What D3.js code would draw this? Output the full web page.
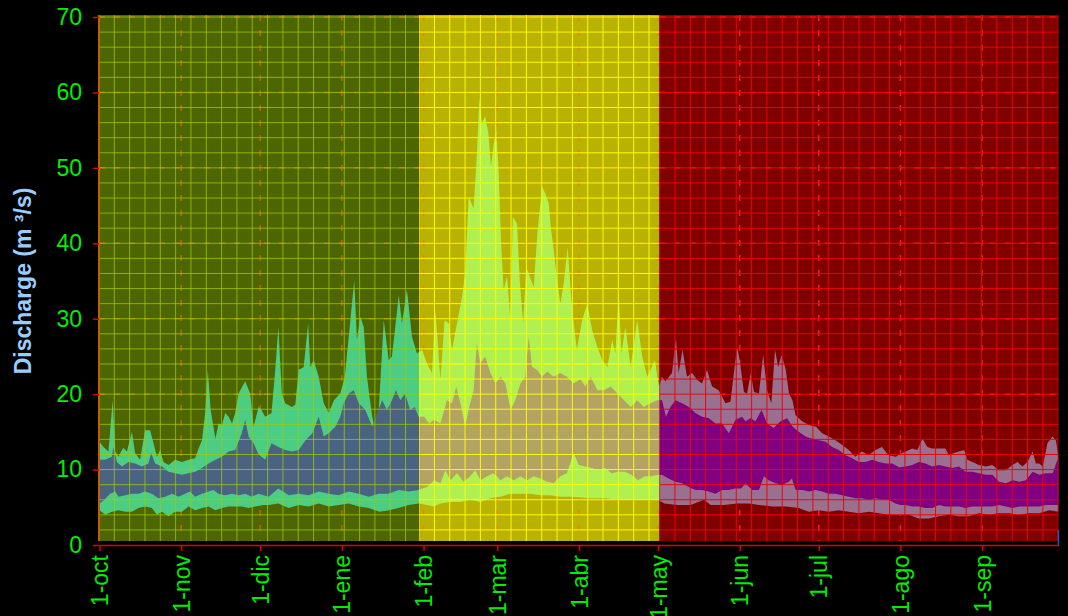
<!DOCTYPE html>
<html>
<head>
<meta charset="utf-8">
<script src="https://cdn.jsdelivr.net/npm/d3@7/dist/d3.min.js"></script>
<style>
  body { margin: 0; background: #000; }
  text { font-family: "Liberation Sans", Arial, sans-serif; }
</style>
</head>
<body>
<div id="main"></div>
<script>
// hydrological year, day 0 = 1 October
const monthDays = [0, 31, 61, 92, 123, 151, 182, 212, 243, 273, 304, 335];
const monthLabels = ["1-oct", "1-nov", "1-dic", "1-ene", "1-feb", "1-mar",
                     "1-abr", "1-may", "1-jun", "1-jul", "1-ago", "1-sep"];
const yTicks = [0, 10, 20, 30, 40, 50, 60, 70];
// season limits (days): wet-autumn, high flow, dry
const seasonBreaks = [-0.2, 121.3, 212.6, 364];

// [day, discharge m3/s]
const seriesMax = [[0,13.7],[1.5,13.0],[3.4,12.4],[5,19.2],[6,12.4],[7.2,11.7],[9,12.9],[10.4,12.4],[12.3,15.0],[13.5,12.2],[15.4,11.3],[17.3,15.2],[19.2,15.2],[20.5,13.5],[21.8,11.7],[23,12.6],[24.3,11.0],[26.2,10.6],[28.7,11.3],[31.3,11.0],[33.8,11.3],[36.3,11.5],[37.6,12.8],[38.9,13.9],[40.1,17.5],[41.1,23.2],[42.2,17.9],[44,14.1],[45.2,16.1],[46.5,15.9],[47.7,17.5],[49,17.0],[50.3,16.1],[51.5,17.5],[52.8,20.1],[55.3,21.7],[57.2,20.1],[58.5,15.7],[60.4,18.3],[61.5,17.9],[62.9,17.0],[65.3,17.5],[66.7,23.2],[67.9,28.9],[69.2,20.1],[70.5,18.8],[73,18.3],[74.3,18.6],[75.6,23.2],[77.5,23.6],[79.2,29.4],[80,23.6],[81.3,24.5],[83.2,22.3],[85.1,18.8],[87,17.5],[89,19.2],[91.4,20.1],[93.1,22.3],[94.6,27.6],[96.7,35.1],[97.7,27.2],[99,30.3],[100.3,28.9],[101.5,22.3],[103.5,17.0],[104.7,15.2],[106,17.9],[107.9,29.8],[109.8,24.5],[111,25.0],[113.6,33.1],[114.8,29.4],[116.7,33.8],[118.6,27.6],[120.5,25.4],[122.4,25.9],[124.3,24.1],[126.2,22.8],[127.5,31.2],[129.4,21.9],[131,29.8],[132.6,29.4],[133.8,25.9],[135.7,29.4],[137.6,32.9],[138.8,36.0],[140.1,46.2],[142,44.6],[143.2,51.5],[144.2,59.4],[145.1,55.9],[146.4,56.8],[147.6,54.6],[148.6,50.1],[149.6,53.2],[150.6,55.0],[151.5,49.7],[152.4,40.4],[153.4,33.8],[154.7,35.6],[155.9,30.3],[156.9,43.5],[158.5,42.6],[159.5,35.1],[160.8,29.4],[162,36.9],[163.3,35.6],[164.8,34.2],[166.3,41.8],[168,47.5],[169.2,46.6],[170.5,45.3],[171.4,41.8],[172.4,39.1],[173.7,35.1],[174.9,32.0],[176.2,34.7],[177.7,39.5],[179,32.9],[180,29.4],[181.2,25.9],[182.5,28.5],[183.2,29.8],[185.1,32.0],[187,28.5],[188.9,26.3],[190.8,24.5],[192.8,23.6],[194.6,27.2],[195.8,25.4],[197.1,33.4],[198.1,25.4],[199.6,28.9],[201.6,23.6],[204.1,29.8],[206,25.0],[207.9,22.3],[209.1,23.2],[210.8,24.5],[212.3,21.0],[213.5,22.3],[214.8,21.7],[217.3,22.8],[218.8,27.4],[219.8,22.8],[221.3,25.9],[223,22.3],[224.9,22.8],[226.8,21.9],[228.7,21.4],[230.6,23.2],[232.5,21.0],[235,20.5],[237.6,18.8],[239.5,19.0],[240.8,22.8],[242,26.3],[243,24.5],[244.6,20.3],[245.8,20.1],[247.2,22.8],[248.4,20.3],[250.3,20.1],[251.9,25.2],[253.4,20.5],[255,18.8],[256.4,25.9],[257.6,23.6],[258.9,25.2],[260.4,23.4],[261.7,20.1],[263,19.2],[264.2,17.2],[266.7,16.4],[269.2,15.9],[271.8,15.7],[274.3,14.8],[276.8,14.4],[279.3,13.9],[281.8,13.3],[284.4,12.6],[286.9,11.7],[289.4,12.4],[291.9,11.9],[294.5,12.6],[297,13.0],[299.5,11.9],[302.2,11.7],[304.7,12.2],[306,12.4],[308.5,12.8],[310.4,12.6],[312.4,14.1],[314.2,13.0],[316.1,12.8],[318.6,12.8],[321.1,12.8],[322.4,11.9],[324.3,12.2],[326.2,12.4],[328.2,12.6],[329.4,11.3],[331.3,11.0],[333.8,10.6],[336.4,10.4],[338.9,10.6],[341.4,9.9],[344,9.9],[346.5,10.6],[348.4,11.0],[350.3,10.4],[352.2,11.0],[354.2,12.4],[355.4,10.8],[356.7,10.8],[358,10.4],[359.8,13.5],[361.7,14.4],[363,13.9],[364,11.7]];

const seriesQ3 = [[0,11.3],[2.2,11.3],[4.7,11.7],[5.3,13.0],[6.6,11.0],[8.5,10.4],[11,11.0],[13.5,10.8],[16.1,10.4],[18.6,10.8],[19.6,12.2],[21.1,10.8],[23.7,10.4],[26.2,9.7],[28.7,9.5],[31.3,9.3],[33.8,9.5],[36.3,9.7],[38.9,10.2],[41.4,10.8],[44,11.3],[46.5,11.7],[49,12.4],[51.5,12.6],[54,14.8],[55.3,16.6],[56.6,14.4],[58.5,13.5],[60.4,12.0],[62.9,11.3],[65.3,13.5],[67.9,13.0],[70.5,12.6],[73,12.4],[75.6,12.6],[78.2,13.9],[80.8,14.8],[83.2,17.0],[85.1,14.4],[87,14.8],[89.6,15.7],[91.4,17.0],[92.7,18.8],[94.6,20.1],[96.5,20.5],[98.4,18.8],[100.9,17.9],[103.5,15.7],[105.4,17.5],[107.3,19.2],[109.1,17.9],[111,19.2],[112.5,20.5],[114.2,19.2],[116,20.1],[117.9,17.9],[119.7,18.3],[121.1,17.0],[123.2,17.0],[125.1,16.1],[127,16.6],[129.4,16.1],[131.9,19.2],[133.8,18.8],[135.4,21.0],[137,18.8],[138.8,15.7],[140.1,17.9],[142,20.5],[143.2,26.7],[144.6,24.1],[146.4,25.0],[148.4,22.8],[150.3,21.4],[152.2,22.3],[154.1,21.4],[156,17.9],[157.8,19.2],[159.8,21.4],[161.6,22.3],[162.9,27.6],[164.2,23.6],[166.1,23.2],[168,22.3],[169.9,23.0],[172.4,22.3],[174.9,22.8],[177.4,22.3],[180,21.4],[182.5,22.0],[184.4,21.0],[186.4,22.3],[189,20.5],[191.5,20.5],[194,21.0],[196.6,20.1],[199.1,19.2],[201.6,18.3],[204.1,19.2],[206.6,18.3],[209.1,18.8],[211.7,19.2],[213.5,19.2],[215,17.0],[216.7,18.3],[218.6,19.2],[221.1,18.8],[223.7,18.3],[226.2,17.5],[228.7,17.0],[231.3,16.8],[233.8,16.1],[236.3,16.1],[238.9,14.8],[241.4,16.6],[243.9,17.0],[245.2,16.4],[247.1,16.8],[249,16.4],[251.3,17.9],[253.4,16.1],[255.9,15.5],[258.5,16.4],[261,16.8],[263,15.7],[265.4,15.0],[268,14.4],[270.5,14.1],[273,13.9],[275.6,13.7],[278.1,13.0],[280.6,12.6],[283.2,11.9],[285.7,11.5],[288.2,11.0],[290.8,11.0],[293.3,11.3],[295.8,11.0],[298.4,10.8],[300.9,10.8],[303.5,10.3],[306,10.4],[308.5,10.6],[311,11.0],[313.5,10.8],[316.1,10.4],[318.6,10.6],[321.1,10.4],[323.7,10.2],[326.2,10.4],[328.7,9.7],[331.3,9.7],[333.8,9.5],[336.4,9.3],[338.9,9.3],[341.4,8.4],[344,8.2],[346.5,8.6],[349.1,8.4],[351.6,8.6],[354.2,9.7],[356.7,9.3],[359.2,9.5],[361.8,9.5],[363.6,11.3],[364,11.3]];

const seriesQ1 = [[0,5.5],[1.9,6.0],[4,6.8],[6,7.1],[7.2,6.4],[9.8,6.6],[12.3,6.8],[14.8,6.8],[17.3,7.1],[19.9,6.8],[22.4,6.2],[24.9,6.4],[27.5,6.8],[30,6.4],[32.5,6.8],[34.4,7.1],[36.3,6.4],[38.9,6.8],[41.4,7.1],[43.3,7.3],[45.2,6.8],[47.7,6.6],[50.3,6.8],[52.8,6.6],[55.3,6.8],[57.8,6.4],[60.4,6.8],[64.2,6.4],[67.9,7.5],[71.8,6.6],[75.6,6.8],[79.4,6.6],[83.2,7.1],[87,6.8],[90.8,6.6],[94.6,7.1],[98.4,6.8],[102.2,6.4],[106,6.8],[109.7,6.8],[113.5,7.3],[117.3,7.1],[121.1,7.3],[124.3,7.7],[127,8.6],[129.4,8.2],[131.3,9.9],[133.2,8.6],[135.7,9.5],[138.2,8.4],[140.7,9.1],[142.6,9.9],[144.6,8.6],[147.1,9.1],[149.6,9.5],[152.2,8.6],[154.7,9.1],[157.2,8.6],[159.8,9.1],[162.3,8.6],[164.8,9.1],[167.3,8.8],[169.9,8.4],[172.4,8.2],[174.9,9.1],[177.4,9.5],[180,12.2],[181.9,10.6],[184.4,10.4],[186.9,10.2],[189.4,9.9],[191.9,10.2],[194.4,9.5],[196.9,9.7],[199.4,9.7],[201.9,9.3],[204.4,8.6],[206.9,9.1],[209.4,9.1],[211.9,9.3],[213.5,9.3],[216,8.8],[218.5,8.4],[221.1,8.2],[223.6,7.7],[226.2,7.3],[228.7,7.3],[231.2,7.1],[233.8,6.8],[236.3,7.3],[238.8,7.3],[241.3,7.5],[243.5,7.5],[245.2,8.2],[247.7,7.3],[250.3,7.3],[252.2,9.1],[254,8.6],[256.6,8.2],[259.2,8.0],[261.6,8.4],[262.8,8.8],[264.2,7.3],[266.7,7.3],[269.2,7.1],[271.8,7.3],[274.3,7.1],[276.8,6.8],[279.3,6.8],[281.8,6.6],[284.4,6.4],[286.9,6.2],[289.4,6.2],[291.9,6.0],[294.5,6.2],[297,6.0],[299.5,6.0],[302.1,5.5],[304,5.3],[306,5.3],[308.5,5.1],[311,5.1],[313.5,4.9],[316.1,4.9],[318.6,5.3],[321.1,5.1],[323.7,5.1],[326.2,5.1],[328.7,4.9],[331.3,5.1],[333.8,5.1],[336.4,5.1],[338.9,5.1],[341.4,5.3],[344,5.1],[346.5,4.9],[349.1,5.1],[351.6,5.1],[354.2,5.1],[356.7,5.1],[359.2,5.3],[361.8,5.3],[364,5.3]];

const seriesMin = [[0,4.6],[2.2,4.0],[4.7,4.4],[7.2,4.6],[9.8,4.4],[12.3,4.4],[14.8,4.9],[17.3,5.1],[19.9,4.9],[21.8,4.0],[23.7,4.4],[26.2,3.8],[28.7,4.4],[31.3,4.4],[33.8,5.1],[36.3,4.6],[38.9,4.9],[41.4,5.1],[44,4.6],[46.5,4.9],[49,5.1],[51.5,5.1],[54,5.1],[56.6,4.9],[59.1,5.1],[62.3,5.3],[64.2,5.3],[67.9,5.5],[71.8,4.9],[75.6,5.3],[79.4,5.1],[83.2,5.5],[87,5.1],[90.8,5.3],[94.6,5.5],[98.4,5.1],[102.2,4.9],[106.3,4.4],[110,4.6],[113.5,4.9],[117.3,5.3],[121.1,5.5],[124.3,5.3],[127,5.1],[129.4,5.5],[133.2,5.7],[137,5.7],[140.7,6.0],[144.6,5.7],[148.4,6.2],[152.2,6.4],[156,6.8],[159.8,6.8],[163.5,6.8],[167.3,6.6],[171.1,6.6],[174.9,6.4],[178.7,6.4],[182.5,6.3],[186.9,6.2],[191.9,6.2],[196.9,6.0],[201.9,6.0],[206.9,6.0],[211.9,6.0],[214.4,5.5],[219.4,5.3],[224.4,5.3],[229.4,6.0],[232,5.3],[237,5.3],[242.1,5.5],[246.5,5.5],[250.3,5.3],[255.4,5.1],[260.4,5.1],[265.4,4.9],[269.2,4.4],[273,4.6],[276.8,4.4],[280.6,4.6],[284.4,4.4],[288.2,4.2],[292,4.4],[295.8,4.2],[299.5,4.0],[303.4,4.0],[307.2,4.0],[311,3.5],[314.8,3.5],[318.6,3.8],[322.4,4.0],[326.2,3.8],[330,3.8],[333.8,4.2],[337.6,4.0],[341.4,4.2],[345.2,4.2],[349.1,4.0],[352.9,4.2],[356.7,4.2],[360.5,4.6],[364,4.4]];

const ctx = {
    WIDTH: 1068,
    HEIGHT: 616,
    GRID_STEP_PX: 15.33
};

const seasonStyle = [
    {bg: "#4d6600", outer: "#4ccd84", inner: "#4a6382", grid: "#a2cc00", gridOp: 0.75, dash: "#c86400"},
    {bg: "#bab200", outer: "#b0f050", inner: "#b4a464", grid: "#ffff00", gridOp: 0.95, dash: "#e88800"},
    {bg: "#800000", outer: "#9a7090", inner: "#800080", grid: "#f00000", gridOp: 0.95, dash: "#ff1a1a"}
];

function createViz(){
    const svg = d3.select("#main").append("svg")
        .attr("width", ctx.WIDTH)
        .attr("height", ctx.HEIGHT)
        .style("background", "#000");

    const x = d3.scaleLinear().domain([0, 364]).range([99.5, 1058.5]);
    const y = d3.scaleLinear().domain([0, 70]).range([545, 17]);

    const plotTop = y(70.27), plotBottom = 541;

    const line = d3.line().x(d => x(d[0])).y(d => y(d[1]));
    const band = (top, bottom) => line(top.concat(bottom.slice().reverse())) + "Z";

    const defs = svg.append("defs");

    seasonStyle.forEach((st, i) => {
        const x0 = x(seasonBreaks[i]), x1 = x(seasonBreaks[i + 1]);
        defs.append("clipPath").attr("id", "clip" + i)
            .append("rect")
            .attr("x", x0).attr("y", plotTop)
            .attr("width", x1 - x0).attr("height", plotBottom - plotTop);

        const g = svg.append("g").attr("clip-path", `url(#clip${i})`);

        g.append("rect")
            .attr("x", x0).attr("y", plotTop)
            .attr("width", x1 - x0).attr("height", plotBottom - plotTop)
            .attr("fill", st.bg);

        // major dashed grid (under the bands)
        g.selectAll(".hdash").data(yTicks).join("line")
            .attr("x1", x0).attr("x2", x1)
            .attr("y1", d => y(d)).attr("y2", d => y(d))
            .attr("stroke", st.dash).attr("stroke-width", 1.5)
            .attr("stroke-dasharray", "6,9");
        g.selectAll(".vdash").data(monthDays.slice(1)).join("line")
            .attr("x1", d => x(d)).attr("x2", d => x(d))
            .attr("y1", plotTop).attr("y2", plotBottom)
            .attr("stroke", st.dash).attr("stroke-width", 1.5)
            .attr("stroke-dasharray", "6,9");

        g.append("path").attr("d", band(seriesMax, seriesMin)).attr("fill", st.outer);
        g.append("path").attr("d", band(seriesQ3, seriesQ1)).attr("fill", st.inner);

        // minor grid (over the bands)
        const vx = d3.range(x0, x1, ctx.GRID_STEP_PX);
        g.selectAll(".vminor").data(vx).join("line")
            .attr("x1", d => d).attr("x2", d => d)
            .attr("y1", plotTop).attr("y2", plotBottom)
            .attr("stroke", st.grid).attr("stroke-opacity", st.gridOp);
        g.selectAll(".hminor").data(d3.range(2, 71, 2)).join("line")
            .attr("x1", x0).attr("x2", x1)
            .attr("y1", d => y(d)).attr("y2", d => y(d))
            .attr("stroke", st.grid).attr("stroke-opacity", st.gridOp);
    });

    // left axis line
    svg.append("line")
        .attr("x1", 99).attr("x2", 99)
        .attr("y1", plotTop).attr("y2", plotBottom)
        .attr("stroke", "#c06000").attr("stroke-width", 2);

    const yAxis = svg.append("g")
        .attr("transform", "translate(99,0)")
        .call(d3.axisLeft(y).tickValues(yTicks).tickSize(6).tickSizeOuter(0).tickPadding(11));
    yAxis.select(".domain").remove();
    yAxis.selectAll(".tick line").attr("stroke", "#e00000").attr("stroke-width", 1.5);
    yAxis.selectAll(".tick text")
        .attr("fill", "#00ee00")
        .style("font-size", "23px")
        .style("font-family", "'Liberation Sans', Arial, sans-serif");

    const xAxis = svg.append("g")
        .attr("transform", "translate(0,545)")
        .call(d3.axisBottom(x).tickValues(monthDays)
              .tickFormat((d, i) => monthLabels[i])
              .tickSize(6).tickSizeOuter(0));
    xAxis.select(".domain").attr("stroke", "#e00000").attr("stroke-width", 1.5);
    xAxis.selectAll(".tick line").attr("stroke", "#e00000").attr("stroke-width", 1.5);
    xAxis.selectAll(".tick text")
        .attr("fill", "#00ee00")
        .style("font-size", "23px")
        .style("font-family", "'Liberation Sans', Arial, sans-serif")
        .attr("text-anchor", "end")
        .attr("transform", "rotate(-90)")
        .attr("x", -10)
        .attr("y", 0)
        .attr("dy", "0.35em");

    svg.append("line")
        .attr("x1", 1058.5).attr("x2", 1058.5)
        .attr("y1", 530).attr("y2", 545)
        .attr("stroke", "#3050c0").attr("stroke-width", 1.5);

    svg.append("text")
        .attr("transform", `translate(31,${(plotTop + plotBottom) / 2 + 3}) rotate(-90)`)
        .attr("text-anchor", "middle")
        .attr("fill", "#99ccff")
        .style("font-size", "23px")
        .style("font-weight", "bold")
        .text("Discharge (m \u00b3/s)");
}

createViz();
</script>
</body>
</html>
